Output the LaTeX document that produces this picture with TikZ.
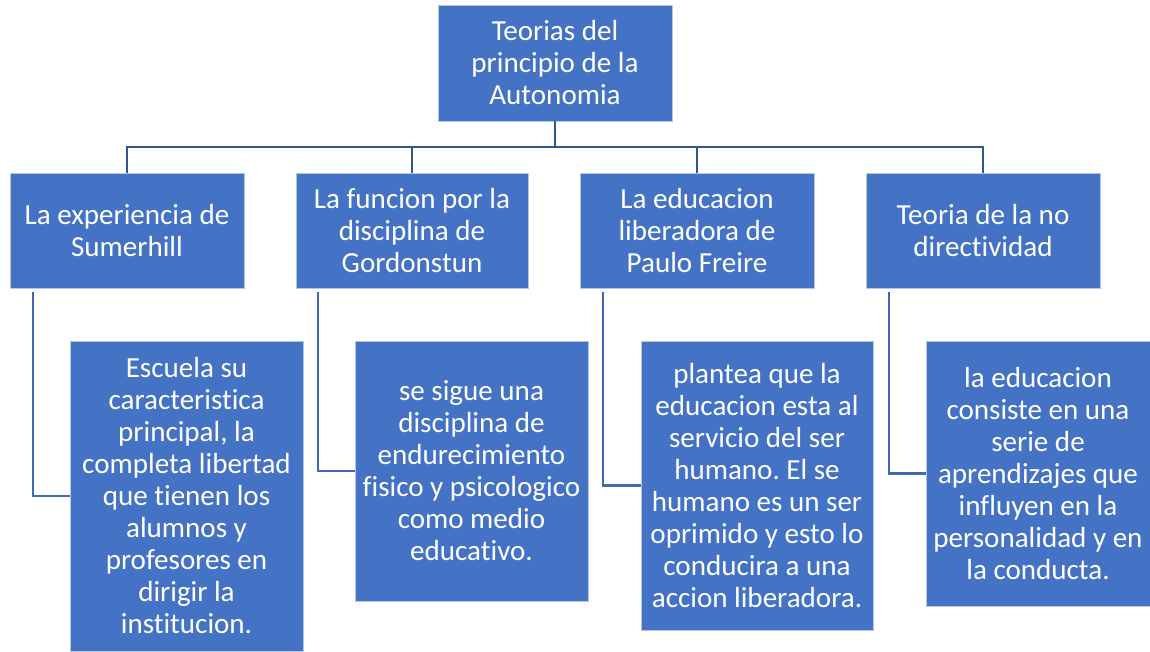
\documentclass[tikz,border=0pt]{standalone}
\usepackage{fontspec}
\setmainfont{Carlito}[RawFeature={-liga;-clig}]
\frenchspacing
\definecolor{boxblue}{HTML}{4472C4}
\definecolor{treeline}{HTML}{2F5597}
\definecolor{sideline}{HTML}{4169B8}
\begin{document}
\begin{tikzpicture}[x=0.75pt,y=-0.75pt,
  box/.style={fill=boxblue, draw=boxblue!40!white, line width=0.6pt, text=white, align=center,
    inner sep=0pt, font=\fontsize{21.8pt}{24pt}\selectfont},
  tree/.style={draw=treeline, line width=2pt},
  side/.style={draw=sideline, line width=1.6pt}]
\useasboundingbox (0,0) rectangle (1150,651);
% top
\node[box, minimum width=175.5pt, minimum height=87pt] (top) at (555,63) {Teorias del\\principio de la\\Autonomia};
% level 2
\node[box, minimum width=175.5pt, minimum height=86.25pt] (b1) at (127,230.5) {La experiencia de\\Sumerhill};
\node[box, minimum width=174pt, minimum height=86.25pt] (b2) at (412,230.5) {La funcion por la\\disciplina de\\Gordonstun};
\node[box, minimum width=175.5pt, minimum height=86.25pt] (b3) at (697,230.5) {La educacion\\liberadora de\\Paulo Freire};
\node[box, minimum width=175.5pt, minimum height=86.25pt] (b4) at (983,230.5) {Teoria de la no\\directividad};
% level 3
\node[box, minimum width=174.75pt, minimum height=232.5pt] (c1) at (186.5,496) {Escuela su\\caracteristica\\principal, la\\completa libertad\\que tienen los\\alumnos y\\profesores en\\dirigir la\\institucion.};
\node[box, minimum width=174.75pt, minimum height=195pt] (c2) at (471.5,471) {se sigue una\\disciplina de\\endurecimiento\\fisico y psicologico\\como medio\\educativo.};
\node[box, minimum width=174pt, minimum height=216.75pt] (c3) at (757,485.5) {plantea que la\\educacion esta al\\servicio del ser\\humano. El se\\humano es un ser\\oprimido y esto lo\\conducira a una\\accion liberadora.};
\node[box, minimum width=168pt, minimum height=198.75pt] (c4) at (1038,473.5) {la educacion\\consiste en una\\serie de\\aprendizajes que\\influyen en la\\personalidad y en\\la conducta.};
% tree connectors
\coordinate (bus) at (555,147);
\draw[tree] (top.south) -- (bus);
\draw[tree] (bus) -| (b1.north);
\draw[tree] (bus) -| (b2.north);
\draw[tree] (bus) -| (b3.north);
\draw[tree] (bus) -| (b4.north);
% side connectors
\draw[side] ([xshift=17.25pt,yshift=-2.5pt]b1.south west) |- (c1.west);
\draw[side] ([xshift=16.5pt,yshift=-2.5pt]b2.south west) |- (c2.west);
\draw[side] ([xshift=17.5pt,yshift=-2.5pt]b3.south west) |- (c3.west);
\draw[side] ([xshift=17.25pt,yshift=-2.5pt]b4.south west) |- (c4.west);
\end{tikzpicture}
\end{document}
